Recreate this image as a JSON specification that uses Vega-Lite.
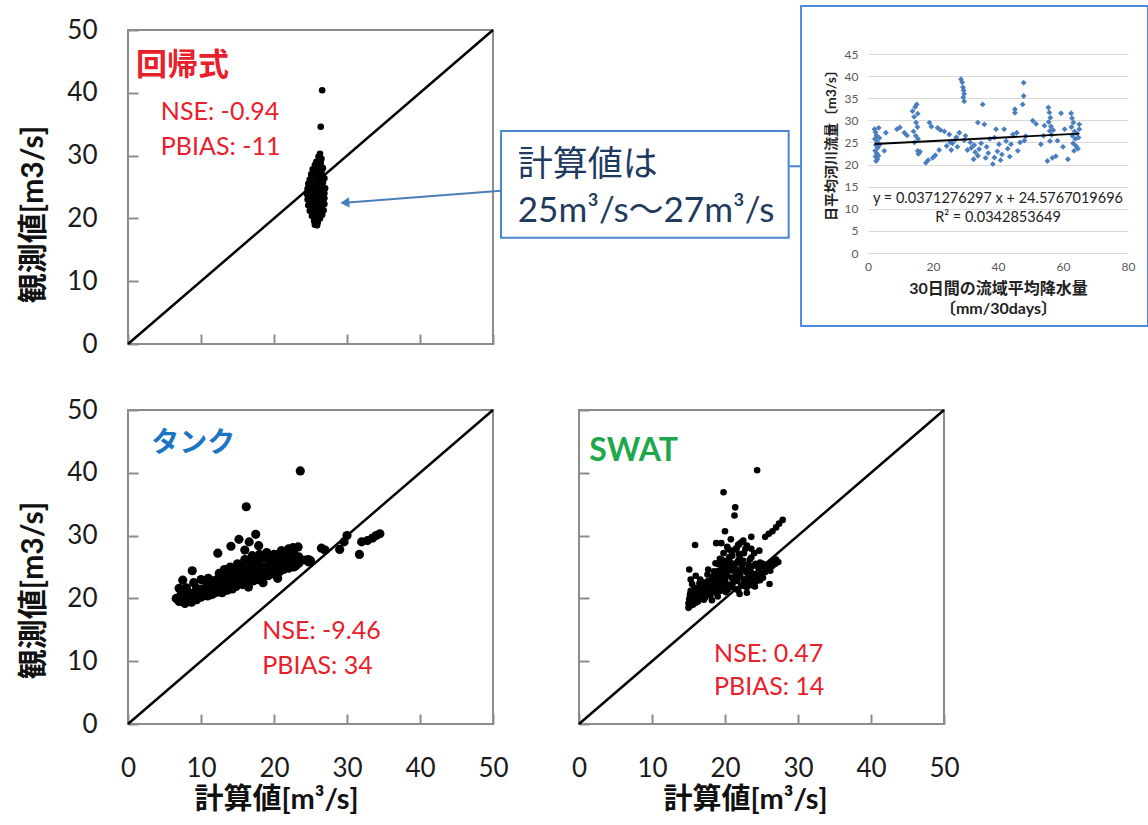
{
  "$schema": "https://vega.github.io/schema/vega-lite/v6.json",
  "padding": {"left": 17, "top": 4, "right": 0, "bottom": 0},
  "background": "white",
  "config": {
    "font": "Lato, 'Noto Sans CJK JP', sans-serif",
    "view": {"stroke": null},
    "axis": {
      "domain": false, "grid": false, "labelFlush": false,
      "tickColor": "#8c8c8c", "tickWidth": 2, "tickSize": -10,
      "labelFontSize": 26, "labelColor": "#1a1a1a", "labelPadding": 41,
      "titleFontSize": 30, "titleFontWeight": "bold", "titleColor": "#111111"
    }
  },
  "datasets": {
    "regress": [
      {"x":26.6,"y":40.4},{"x":26.4,"y":34.6},{"x":26.3,"y":30.3},{"x":26.1,"y":29.8},{"x":26.5,"y":29.5},{"x":25.8,"y":29.0},{"x":26.4,"y":28.8},{"x":25.6,"y":28.5},{"x":26.2,"y":28.2},{"x":26.7,"y":28.0},{"x":25.3,"y":27.8},{"x":25.9,"y":27.5},{"x":26.5,"y":27.3},{"x":25.1,"y":27.0},{"x":25.7,"y":26.8},{"x":26.3,"y":26.6},{"x":26.9,"y":26.4},{"x":24.9,"y":26.2},{"x":25.5,"y":26.0},{"x":26.1,"y":25.9},{"x":26.7,"y":25.7},{"x":24.7,"y":25.5},{"x":25.3,"y":25.3},{"x":25.9,"y":25.2},{"x":26.5,"y":25.0},{"x":27.0,"y":24.8},{"x":24.6,"y":24.7},{"x":25.2,"y":24.5},{"x":25.8,"y":24.4},{"x":26.4,"y":24.2},{"x":26.9,"y":24.0},{"x":24.5,"y":23.9},{"x":25.1,"y":23.7},{"x":25.7,"y":23.5},{"x":26.3,"y":23.4},{"x":26.9,"y":23.2},{"x":24.6,"y":23.0},{"x":25.2,"y":22.8},{"x":25.8,"y":22.7},{"x":26.4,"y":22.5},{"x":26.9,"y":22.3},{"x":24.7,"y":22.1},{"x":25.3,"y":22.0},{"x":25.9,"y":21.8},{"x":26.5,"y":21.6},{"x":26.8,"y":21.3},{"x":24.9,"y":21.2},{"x":25.5,"y":21.0},{"x":26.1,"y":20.8},{"x":26.6,"y":20.6},{"x":25.2,"y":20.4},{"x":25.8,"y":20.1},{"x":26.3,"y":20.0},{"x":25.5,"y":19.6},{"x":26.0,"y":19.4},{"x":25.6,"y":19.0},{"x":25.9,"y":18.9},{"x":25.3,"y":22.4},{"x":25.6,"y":24.9},{"x":26.0,"y":26.3},{"x":25.4,"y":23.1},{"x":26.2,"y":21.5},{"x":25.0,"y":25.9},{"x":26.6,"y":23.8},{"x":25.7,"y":20.7}
    ],
    "tank": [
      {"x":23.6,"y":40.3},{"x":16.2,"y":34.6},{"x":17.5,"y":30.2},{"x":15.2,"y":29.4},{"x":16.6,"y":29.0},{"x":17.9,"y":28.4},{"x":14.1,"y":28.3},{"x":12.3,"y":27.2},{"x":16.0,"y":27.7},{"x":8.8,"y":24.4},{"x":7.5,"y":22.9},{"x":7.0,"y":21.6},{"x":6.6,"y":20.0},{"x":26.5,"y":28.0},{"x":27.0,"y":27.7},{"x":29.0,"y":27.8},{"x":29.6,"y":29.0},{"x":30.0,"y":30.0},{"x":31.7,"y":27.0},{"x":32.0,"y":29.0},{"x":32.8,"y":29.2},{"x":33.5,"y":29.6},{"x":34.0,"y":30.0},{"x":34.5,"y":30.3},{"x":25.0,"y":26.0},{"x":24.7,"y":26.2},
      {"x":7.0,"y":19.5},{"x":7.2,"y":20.4},{"x":7.5,"y":21.0},{"x":7.8,"y":19.2},{"x":8.2,"y":19.8},{"x":8.5,"y":20.6},{"x":8.9,"y":19.7},{"x":9.2,"y":20.3},{"x":9.6,"y":21.0},{"x":10.0,"y":20.2},{"x":10.3,"y":20.9},{"x":10.6,"y":21.6},{"x":10.9,"y":20.4},{"x":11.2,"y":21.2},{"x":11.5,"y":22.0},{"x":11.8,"y":20.8},{"x":12.1,"y":21.5},{"x":12.4,"y":22.3},{"x":12.7,"y":21.0},{"x":13.0,"y":21.8},{"x":13.3,"y":22.6},{"x":13.6,"y":23.4},{"x":13.9,"y":21.6},{"x":14.2,"y":22.4},{"x":14.5,"y":23.2},{"x":14.8,"y":21.9},{"x":15.1,"y":22.7},{"x":15.4,"y":23.5},{"x":15.7,"y":24.3},{"x":16.0,"y":22.5},{"x":16.3,"y":23.3},{"x":16.6,"y":24.1},{"x":16.9,"y":25.0},{"x":17.2,"y":22.8},{"x":17.5,"y":23.6},{"x":17.8,"y":24.4},{"x":18.1,"y":25.2},{"x":18.4,"y":23.4},{"x":18.7,"y":24.2},{"x":19.0,"y":25.0},{"x":19.3,"y":25.8},{"x":19.6,"y":23.9},{"x":19.9,"y":24.7},{"x":20.2,"y":25.5},{"x":20.5,"y":26.3},{"x":20.8,"y":24.3},{"x":21.1,"y":25.1},{"x":21.4,"y":25.9},{"x":21.7,"y":26.7},{"x":22.0,"y":24.8},{"x":22.3,"y":25.6},{"x":22.6,"y":26.4},{"x":23.0,"y":25.2},{"x":23.4,"y":26.0},{"x":23.8,"y":26.1},{"x":24.3,"y":26.1},{"x":11.0,"y":23.2},{"x":12.5,"y":24.0},{"x":13.2,"y":24.6},{"x":14.0,"y":25.0},{"x":15.0,"y":25.5},{"x":16.0,"y":26.2},{"x":17.0,"y":26.8},{"x":18.0,"y":27.0},{"x":19.0,"y":27.3},{"x":20.0,"y":27.0},{"x":21.0,"y":27.6},{"x":22.0,"y":27.9},{"x":22.6,"y":28.1},{"x":23.3,"y":28.2},{"x":9.0,"y":22.5},{"x":10.0,"y":23.0},{"x":18.5,"y":22.5},{"x":20.5,"y":23.2},{"x":16.5,"y":21.8},
      {"x":7.3,"y":20.0},{"x":7.3,"y":20.8},{"x":8.0,"y":20.0},{"x":8.0,"y":20.9},{"x":8.0,"y":21.7},{"x":8.7,"y":19.4},{"x":8.7,"y":20.8},{"x":9.4,"y":19.8},{"x":9.4,"y":20.7},{"x":9.4,"y":21.6},{"x":10.1,"y":20.6},{"x":10.1,"y":21.5},{"x":10.8,"y":20.8},{"x":10.8,"y":21.9},{"x":10.8,"y":22.6},{"x":11.5,"y":20.6},{"x":11.5,"y":21.4},{"x":11.5,"y":22.8},{"x":12.2,"y":21.0},{"x":12.2,"y":22.0},{"x":12.2,"y":23.0},{"x":12.9,"y":20.9},{"x":12.9,"y":22.4},{"x":12.9,"y":23.3},{"x":13.6,"y":21.3},{"x":13.6,"y":22.2},{"x":13.6,"y":24.0},{"x":14.3,"y":21.5},{"x":14.3,"y":23.0},{"x":14.3,"y":24.2},{"x":15.0,"y":22.2},{"x":15.0,"y":23.8},{"x":15.0,"y":24.6},{"x":15.7,"y":22.2},{"x":15.7,"y":23.2},{"x":15.7,"y":25.2},{"x":16.4,"y":22.6},{"x":16.4,"y":24.6},{"x":16.4,"y":25.6},{"x":17.1,"y":23.5},{"x":17.1,"y":24.0},{"x":17.1,"y":25.8},{"x":17.8,"y":23.0},{"x":17.8,"y":25.6},{"x":17.8,"y":26.2},{"x":18.5,"y":24.0},{"x":18.5,"y":24.8},{"x":18.5,"y":26.4},{"x":19.2,"y":23.6},{"x":19.2,"y":24.5},{"x":19.2,"y":26.8},{"x":19.9,"y":24.2},{"x":19.9,"y":25.8},{"x":19.9,"y":26.4},{"x":20.6,"y":24.8},{"x":20.6,"y":25.6},{"x":20.6,"y":27.0},{"x":21.3,"y":24.6},{"x":21.3,"y":26.4},{"x":21.3,"y":27.2},{"x":22.0,"y":25.3},{"x":22.0,"y":26.2},{"x":22.7,"y":25.0},{"x":22.7,"y":25.8},{"x":22.7,"y":27.4},{"x":23.4,"y":25.6},{"x":23.4,"y":26.6},{"x":24.8,"y":25.8}
    ],
    "swat": [
      {"x":24.4,"y":40.4},{"x":19.8,"y":36.9},{"x":21.4,"y":34.5},{"x":21.3,"y":33.2},{"x":20.0,"y":30.7},{"x":15.9,"y":28.5},{"x":15.1,"y":24.6},{"x":18.8,"y":28.8},{"x":19.5,"y":28.8},{"x":23.6,"y":29.8},{"x":24.7,"y":27.6},{"x":23.6,"y":27.9},{"x":27.9,"y":32.5},{"x":27.4,"y":31.9},{"x":27.0,"y":31.3},{"x":26.5,"y":30.7},{"x":26.0,"y":30.3},{"x":25.5,"y":29.8},{"x":22.5,"y":29.2},{"x":21.8,"y":28.5},
      {"x":15.0,"y":18.5},{"x":15.0,"y":19.2},{"x":15.1,"y":19.9},{"x":15.2,"y":20.6},{"x":15.3,"y":21.2},{"x":15.6,"y":19.0},{"x":15.8,"y":20.0},{"x":16.0,"y":20.8},{"x":16.2,"y":21.6},{"x":16.5,"y":22.4},{"x":16.3,"y":19.5},{"x":16.8,"y":20.3},{"x":17.0,"y":21.0},{"x":17.3,"y":20.2},{"x":17.5,"y":21.5},{"x":17.8,"y":22.3},{"x":16.6,"y":23.0},
      {"x":18.0,"y":20.5},{"x":18.3,"y":21.3},{"x":18.6,"y":22.1},{"x":18.9,"y":23.0},{"x":19.2,"y":23.8},{"x":19.5,"y":24.6},{"x":19.0,"y":25.5},{"x":19.3,"y":26.3},{"x":19.8,"y":27.2},{"x":20.2,"y":26.0},{"x":20.5,"y":25.0},{"x":20.0,"y":24.0},{"x":19.7,"y":22.5},{"x":19.4,"y":21.2},{"x":20.1,"y":21.0},{"x":20.6,"y":22.2},{"x":20.9,"y":23.3},{"x":21.2,"y":24.4},{"x":21.5,"y":25.6},{"x":21.0,"y":26.8},{"x":21.4,"y":27.8},{"x":22.0,"y":26.5},{"x":22.3,"y":25.3},{"x":22.0,"y":24.0},{"x":21.7,"y":22.8},{"x":21.4,"y":21.5},{"x":22.2,"y":22.0},{"x":22.6,"y":23.0},{"x":22.9,"y":24.2},{"x":23.2,"y":25.4},{"x":23.5,"y":24.3},{"x":23.8,"y":23.2},{"x":23.0,"y":21.8},{"x":24.0,"y":22.6},{"x":24.3,"y":23.8},{"x":24.6,"y":24.8},{"x":25.0,"y":24.0},{"x":25.4,"y":24.9},{"x":25.8,"y":25.3},{"x":26.2,"y":25.6},{"x":26.6,"y":25.9},{"x":27.0,"y":26.2},{"x":25.2,"y":23.3},{"x":26.1,"y":22.3},{"x":23.7,"y":22.1},{"x":24.8,"y":22.9},{"x":20.5,"y":27.8},{"x":18.5,"y":24.3},{"x":17.6,"y":23.8},{"x":19.0,"y":20.3},{"x":18.2,"y":19.7},{"x":22.6,"y":27.2},{"x":23.4,"y":26.2},{"x":24.2,"y":25.5},{"x":20.8,"y":29.4},{"x":21.9,"y":28.6},{"x":23.0,"y":28.4},
      {"x":15.2,"y":18.8},{"x":15.4,"y":19.6},{"x":15.5,"y":20.3},{"x":15.6,"y":21.0},{"x":15.8,"y":21.7},{"x":15.5,"y":22.3},{"x":16.0,"y":19.3},{"x":16.1,"y":20.1},{"x":16.4,"y":20.6},{"x":16.5,"y":21.2},{"x":16.7,"y":21.8},{"x":16.9,"y":22.6},{"x":17.1,"y":19.8},{"x":17.2,"y":20.6},{"x":17.4,"y":22.0},{"x":17.6,"y":20.8},{"x":17.7,"y":22.8},{"x":17.9,"y":21.6},{"x":15.3,"y":23.0},{"x":16.0,"y":23.6},
      {"x":18.1,"y":21.8},{"x":18.4,"y":22.6},{"x":18.7,"y":23.5},{"x":18.8,"y":20.9},{"x":19.1,"y":21.8},{"x":19.3,"y":22.6},{"x":19.1,"y":24.4},{"x":19.6,"y":25.3},{"x":19.5,"y":23.3},{"x":19.9,"y":22.0},{"x":20.0,"y":22.9},{"x":20.3,"y":23.7},{"x":20.3,"y":24.6},{"x":20.7,"y":25.8},{"x":20.6,"y":26.6},{"x":20.0,"y":25.2},{"x":20.9,"y":24.5},{"x":21.0,"y":21.8},{"x":21.2,"y":22.6},{"x":21.5,"y":23.5},{"x":21.6,"y":24.6},{"x":21.8,"y":26.0},{"x":21.9,"y":27.1},{"x":21.2,"y":25.3},{"x":22.1,"y":23.5},{"x":22.4,"y":24.6},{"x":22.5,"y":26.0},{"x":22.8,"y":21.9},{"x":22.6,"y":22.5},{"x":23.1,"y":23.3},{"x":23.2,"y":24.8},{"x":23.4,"y":22.6},{"x":23.7,"y":24.0},{"x":23.9,"y":25.2},{"x":23.6,"y":26.5},{"x":24.1,"y":21.9},{"x":24.4,"y":22.8},{"x":24.6,"y":23.6},{"x":24.8,"y":25.7},{"x":25.2,"y":25.5},{"x":25.5,"y":24.2},{"x":25.8,"y":24.6},{"x":26.2,"y":24.4},{"x":26.5,"y":25.2},{"x":26.9,"y":25.5},{"x":27.3,"y":25.8},{"x":24.0,"y":27.2},{"x":22.8,"y":27.9},{"x":20.3,"y":28.2},{"x":19.6,"y":26.1},{"x":18.7,"y":25.6},{"x":18.3,"y":23.4},{"x":17.7,"y":24.6},{"x":20.9,"y":27.5},{"x":21.6,"y":28.0},{"x":22.2,"y":28.9},{"x":19.0,"y":21.5},{"x":20.4,"y":21.4},{"x":21.8,"y":21.3},{"x":23.0,"y":20.9},{"x":22.0,"y":20.7}
    ],
    "inset": [
      {"x":2.0,"y":28.0},{"x":2.3,"y":27.3},{"x":2.6,"y":26.6},{"x":2.1,"y":25.8},{"x":2.8,"y":25.1},{"x":2.4,"y":24.4},{"x":3.0,"y":23.8},{"x":2.2,"y":23.1},{"x":2.7,"y":22.5},{"x":2.3,"y":21.8},{"x":2.9,"y":21.2},{"x":2.5,"y":20.8},{"x":3.3,"y":28.3},{"x":3.5,"y":26.0},{"x":3.2,"y":22.0},{"x":3.6,"y":24.5},
      {"x":5.5,"y":27.2},{"x":5.0,"y":23.1},{"x":8.9,"y":28.0},{"x":9.8,"y":28.4},{"x":11.2,"y":27.2},{"x":12.0,"y":26.6},
      {"x":13.7,"y":32.1},{"x":14.5,"y":33.0},{"x":15.0,"y":33.6},{"x":15.3,"y":31.5},{"x":14.2,"y":30.8},{"x":14.8,"y":29.5},{"x":15.2,"y":28.5},{"x":14.0,"y":27.5},{"x":14.7,"y":26.5},{"x":15.4,"y":25.8},{"x":14.3,"y":25.0},{"x":15.3,"y":23.1},{"x":15.5,"y":22.4},{"x":16.0,"y":22.9},
      {"x":18.9,"y":29.5},{"x":19.5,"y":28.6},{"x":17.8,"y":20.4},{"x":18.5,"y":21.0},{"x":19.9,"y":21.5},{"x":20.7,"y":22.1},{"x":21.9,"y":23.3},{"x":21.4,"y":28.3},{"x":22.3,"y":27.8},{"x":23.5,"y":27.5},{"x":25.0,"y":26.8},{"x":25.3,"y":25.0},{"x":25.6,"y":23.3},{"x":24.2,"y":24.2},{"x":26.0,"y":24.8},{"x":26.8,"y":25.6},{"x":27.2,"y":26.2},{"x":28.1,"y":27.2},{"x":27.5,"y":24.0},
      {"x":28.6,"y":39.3},{"x":29.0,"y":38.6},{"x":29.2,"y":37.5},{"x":29.4,"y":36.8},{"x":29.6,"y":36.0},{"x":29.3,"y":35.2},{"x":29.6,"y":34.3},{"x":29.6,"y":25.5},{"x":30.6,"y":23.3},{"x":30.0,"y":26.5},{"x":31.5,"y":25.0},{"x":31.8,"y":23.8},{"x":32.7,"y":24.4},{"x":33.8,"y":22.0},{"x":32.5,"y":21.2},{"x":33.0,"y":22.8},{"x":34.2,"y":23.5},{"x":34.8,"y":24.8},{"x":35.3,"y":33.6},{"x":35.8,"y":29.1},{"x":33.8,"y":29.5},{"x":36.5,"y":24.0},{"x":37.0,"y":22.6},{"x":36.2,"y":21.5},{"x":37.5,"y":25.8},{"x":38.4,"y":20.1},{"x":38.9,"y":21.6},{"x":39.4,"y":28.0},{"x":38.9,"y":26.1},{"x":39.8,"y":23.0},{"x":40.3,"y":24.6},{"x":40.8,"y":21.0},{"x":41.2,"y":22.3},{"x":41.9,"y":28.0},{"x":42.5,"y":25.3},{"x":43.0,"y":23.6},{"x":43.6,"y":21.8},{"x":44.0,"y":24.6},{"x":44.6,"y":26.8},{"x":45.2,"y":32.5},{"x":45.2,"y":31.7},{"x":45.8,"y":27.2},{"x":46.1,"y":23.1},{"x":46.8,"y":25.0},{"x":47.6,"y":33.6},{"x":47.9,"y":35.5},{"x":47.9,"y":38.5},{"x":48.1,"y":25.4},{"x":48.5,"y":26.4},{"x":50.7,"y":29.9},{"x":51.7,"y":29.2},{"x":53.2,"y":24.6},{"x":54.3,"y":28.8},{"x":54.0,"y":26.5},
      {"x":55.5,"y":32.9},{"x":55.8,"y":31.8},{"x":56.1,"y":30.6},{"x":55.6,"y":29.6},{"x":56.3,"y":28.6},{"x":55.9,"y":27.6},{"x":56.5,"y":26.7},{"x":56.0,"y":25.3},{"x":57.0,"y":27.8},{"x":55.2,"y":20.8},{"x":56.7,"y":21.5},{"x":57.8,"y":21.9},{"x":58.3,"y":25.4},{"x":59.4,"y":31.6},{"x":60.5,"y":28.0},{"x":61.5,"y":21.2},{"x":60.0,"y":24.0},
      {"x":62.5,"y":31.6},{"x":62.8,"y":30.5},{"x":63.2,"y":29.5},{"x":62.6,"y":28.5},{"x":63.5,"y":27.5},{"x":62.9,"y":26.5},{"x":63.8,"y":25.8},{"x":63.1,"y":24.8},{"x":64.0,"y":24.2},{"x":63.4,"y":23.1},{"x":64.6,"y":23.6},{"x":65.0,"y":29.1},{"x":64.3,"y":27.0},{"x":64.8,"y":26.1},{"x":65.0,"y":28.0}
    ],
    "diag": [{"x":0,"y":0},{"x":50,"y":50}]
  },
  "spacing": 38,
  "vconcat": [
    {
      "hconcat": [
        {
          "width": 365, "height": 314,
          "view": {"stroke": "#8c8c8c", "strokeWidth": 2},
          "encoding": {
            "x": {"field": "x", "type": "quantitative", "scale": {"domain": [0, 50], "nice": false},
                  "axis": {"values": [0, 10, 20, 30, 40, 50], "labels": false, "title": null}},
            "y": {"field": "y", "type": "quantitative", "scale": {"domain": [0, 50], "nice": false},
                  "axis": {"values": [0, 10, 20, 30, 40, 50], "title": "観測値[m3/s]", "titleX": -86, "titleY": 184, "titleBaseline": "alphabetic"}}
          },
          "layer": [
            {"data": {"name": "diag"}, "mark": {"type": "line", "color": "black", "strokeWidth": 2.5}},
            {"data": {"name": "regress"}, "mark": {"type": "circle", "color": "black", "size": 44, "opacity": 1}},
            {"data": {"values": [{"x": 1.1, "y": 42.8, "label": "回帰式"}]},
             "mark": {"type": "text", "align": "left", "baseline": "alphabetic", "fontSize": 31, "fontWeight": "bold", "color": "#e8202a"},
             "encoding": {"text": {"field": "label"}}},
            {"data": {"values": [{"x": 4.5, "y": 35.7, "label": "NSE: -0.94"}, {"x": 4.5, "y": 30.1, "label": "PBIAS: -11"}]},
             "mark": {"type": "text", "align": "left", "baseline": "alphabetic", "fontSize": 25, "color": "#e8202a"},
             "encoding": {"text": {"field": "label"}}},
            {"data": {"values": [{"x": 51.1, "x2": 90.5, "y": 33.9, "y2": 16.9}]},
             "mark": {"type": "rect", "filled": false, "color": "#4a86d0", "strokeWidth": 2, "clip": false},
             "encoding": {"x2": {"field": "x2"}, "y2": {"field": "y2"}}},
            {"data": {"values": [{"x": 53.4, "y": 26.75, "label": "計算値は"}, {"x": 53.4, "y": 19.4, "label": "25m³/s～27m³/s"}]},
             "mark": {"type": "text", "align": "left", "baseline": "alphabetic", "fontSize": 35, "color": "#1f3a5f", "clip": false},
             "encoding": {"text": {"field": "label"}}},
            {"data": {"values": [{"x": 29.7, "y": 22.5}, {"x": 51.1, "y": 24.4}]},
             "mark": {"type": "line", "color": "#4a7ebb", "strokeWidth": 2, "clip": false}},
            {"data": {"values": [{"x": 29.7, "y": 22.5}]},
             "mark": {"type": "point", "shape": "triangle-left", "filled": true, "size": 110, "color": "#4a7ebb", "angle": -4, "opacity": 1, "clip": false}},
            {"data": {"values": [{"x": 90.5, "y": 28.3}, {"x": 92.3, "y": 28.3}]},
             "mark": {"type": "line", "color": "#4a86d0", "strokeWidth": 2, "clip": false}}
          ]
        },
        {
          "width": 260, "height": 223,
          "encoding": {
            "x": {"field": "x", "type": "quantitative", "scale": {"domain": [0, 80], "nice": false},
                  "axis": {"values": [0, 20, 40, 60, 80], "grid": false, "ticks": false, "domain": false,
                           "labelFontSize": 12, "labelColor": "#595959", "labelPadding": 8,
                           "title": ["30日間の流域平均降水量", "〔mm/30days〕"], "titleFontSize": 16, "titleFontWeight": "bold",
                           "titleColor": "#222222", "titleLineHeight": 20, "titlePadding": 8}},
            "y": {"field": "y", "type": "quantitative", "scale": {"domain": [0, 50.43], "nice": false},
                  "axis": {"values": [0, 5, 10, 15, 20, 25, 30, 35, 40, 45], "grid": true, "gridColor": "#d9d9d9", "gridWidth": 1.2,
                           "ticks": false, "domain": false, "labelFontSize": 12, "labelColor": "#595959", "labelPadding": 10,
                           "title": "日平均河川流量〔m3/s〕", "titleFontSize": 14, "titleFontWeight": "bold", "titleColor": "#222222", "titlePadding": 6}}
          },
          "layer": [
            {"data": {"values": [{"x": -20.6, "x2": 86.15, "y": 55.86, "y2": -16.5}]},
             "mark": {"type": "rect", "filled": false, "color": "#4a8ae0", "strokeWidth": 2, "clip": false},
             "encoding": {"x2": {"field": "x2"}, "y2": {"field": "y2"}}},
            {"data": {"name": "inset"}, "mark": {"type": "point", "shape": "diamond", "filled": true, "size": 34, "color": "#4a7ebf", "opacity": 1}},
            {"data": {"values": [{"x": 2, "y": 24.65}, {"x": 65, "y": 26.99}]},
             "mark": {"type": "line", "color": "black", "strokeWidth": 1.8}},
            {"data": {"values": [{"x": 40, "y": 12.2, "label": "y = 0.0371276297 x + 24.5767019696"}, {"x": 40, "y": 7.9, "label": "R² = 0.0342853649"}]},
             "mark": {"type": "text", "align": "center", "baseline": "middle", "fontSize": 14.5, "color": "#222222"},
             "encoding": {"text": {"field": "label"}}}
          ]
        }
      ],
      "bounds": "flush",
      "spacing": 375
    },
    {
      "hconcat": [
        {
          "width": 365, "height": 314,
          "view": {"stroke": "#8c8c8c", "strokeWidth": 2},
          "encoding": {
            "x": {"field": "x", "type": "quantitative", "scale": {"domain": [0, 50], "nice": false},
                  "axis": {"values": [0, 10, 20, 30, 40, 50], "title": "計算値[m³/s]", "titleFontSize": 29, "titleX": 148, "titleY": 84, "titleBaseline": "alphabetic"}},
            "y": {"field": "y", "type": "quantitative", "scale": {"domain": [0, 50], "nice": false},
                  "axis": {"values": [0, 10, 20, 30, 40, 50], "title": "観測値[m3/s]", "titleX": -86, "titleY": 180, "titleBaseline": "alphabetic"}}
          },
          "layer": [
            {"data": {"name": "diag"}, "mark": {"type": "line", "color": "black", "strokeWidth": 2.5}},
            {"data": {"name": "tank"}, "mark": {"type": "circle", "color": "black", "size": 84, "opacity": 1}},
            {"data": {"values": [{"x": 3.2, "y": 43.3, "label": "タンク"}]},
             "mark": {"type": "text", "align": "left", "baseline": "alphabetic", "fontSize": 28, "fontWeight": "bold", "color": "#1b75c4"},
             "encoding": {"text": {"field": "label"}}},
            {"data": {"values": [{"x": 18.4, "y": 13.6, "label": "NSE: -9.46"}, {"x": 18.4, "y": 8.0, "label": "PBIAS: 34"}]},
             "mark": {"type": "text", "align": "left", "baseline": "alphabetic", "fontSize": 25, "color": "#e8202a"},
             "encoding": {"text": {"field": "label"}}}
          ]
        },
        {
          "width": 365, "height": 314,
          "view": {"stroke": "#8c8c8c", "strokeWidth": 2},
          "encoding": {
            "x": {"field": "x", "type": "quantitative", "scale": {"domain": [0, 50], "nice": false},
                  "axis": {"values": [0, 10, 20, 30, 40, 50], "title": "計算値[m³/s]", "titleFontSize": 29, "titleX": 166, "titleY": 84, "titleBaseline": "alphabetic"}},
            "y": {"field": "y", "type": "quantitative", "scale": {"domain": [0, 50], "nice": false},
                  "axis": {"values": [0, 10, 20, 30, 40, 50], "labels": false, "title": null}}
          },
          "layer": [
            {"data": {"name": "diag"}, "mark": {"type": "line", "color": "black", "strokeWidth": 2.5}},
            {"data": {"name": "swat"}, "mark": {"type": "circle", "color": "black", "size": 44, "opacity": 1}},
            {"data": {"values": [{"x": 1.4, "y": 41.9, "label": "SWAT"}]},
             "mark": {"type": "text", "align": "left", "baseline": "alphabetic", "fontSize": 32, "fontWeight": "bold", "color": "#1ea84b"},
             "encoding": {"text": {"field": "label"}}},
            {"data": {"values": [{"x": 18.5, "y": 9.8, "label": "NSE: 0.47"}, {"x": 18.5, "y": 4.6, "label": "PBIAS: 14"}]},
             "mark": {"type": "text", "align": "left", "baseline": "alphabetic", "fontSize": 25, "color": "#e8202a"},
             "encoding": {"text": {"field": "label"}}}
          ]
        }
      ],
      "bounds": "flush",
      "spacing": 86
    }
  ]
}
